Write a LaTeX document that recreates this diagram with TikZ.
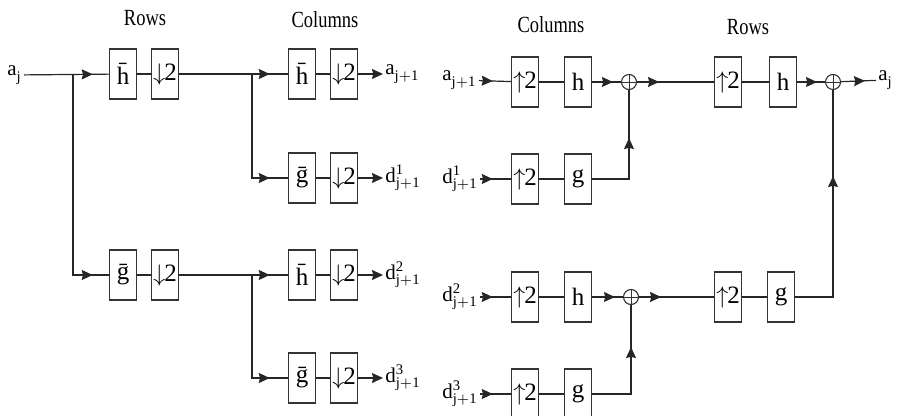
\documentclass[tikz,border=0pt]{standalone}
\usepackage{fontspec}
\setmainfont{Liberation Serif}
\usepackage{tikz}
\usetikzlibrary{positioning,arrows.meta,calc,decorations.markings}
\newcommand{\dsmp}{$\big\downarrow$\kern-0.5pt2}
\newcommand{\usmp}{$\big\uparrow$\kern-0.5pt2}
\newcommand{\sgl}[3]{$\mathrm{#1}^{\mathrm{#2}}_{\mathrm{#3}}$}
\newcommand{\narrow}[1]{\scalebox{0.84}[1.05]{#1}}
\tikzset{
  >={Stealth[length=5.5pt,width=5pt,inset=0.6pt]},
  every node/.style={font=\fontsize{10.5}{12}\selectfont},
  % --- nodes
  filt/.style  = {draw=black!80, line width=0.75pt, minimum width=13.5pt, minimum height=25pt,
                  inner sep=0pt, font=\fontsize{12.5}{14}\selectfont},
  adder/.style = {draw=black!80, circle, line width=0.55pt, minimum size=7.5pt, inner sep=0pt,
                  path picture={\draw[line width=0.45pt]
                    (path picture bounding box.north) -- (path picture bounding box.south)
                    (path picture bounding box.west) -- (path picture bounding box.east);}},
  sig/.style   = {anchor=west, inner sep=1pt},
  head/.style  = {font=\fontsize{11}{12}\selectfont},
  % --- edges
  wire/.style  = {draw=black!85, line width=0.6pt},
  flow/.style  = {wire, postaction={decorate},
                  decoration={markings, mark=at position #1 with {\arrow{>}}}},
  flow/.default= -8pt,
}

\begin{document}
\begin{tikzpicture}[x=0.5pt,y=0.5pt]
  \useasboundingbox (0,0) rectangle (898,-416);

  % headings
  \node (hrow1) [head] at (145,-18) {\narrow{Rows}};
  \node (hcol1) [head] at (325,-20) {\narrow{Columns}};
  \node (hcol2) [head] at (551,-25) {\narrow{Columns}};
  \node (hrow2) [head] at (748,-27) {\narrow{Rows}};

  % analysis: rows
  \node (aj)  [sig]  at (5,-75)    {\sgl{a}{}{j}};
  \node (hr)  [filt] at (123,-74)  {\=h};
  \node (dr1) [filt] at (165,-74)  {\dsmp};
  \node (gr)  [filt] at (123,-275) {\=g};
  \node (dr2) [filt] at (165,-275) {\dsmp};
  \coordinate (br1) at (73,-75);

  % analysis: columns
  \node (hc1) [filt] at (302,-74)  {\=h};
  \node (dc1) [filt] at (344,-74)  {\dsmp};
  \node (gc1) [filt] at (302,-178) {\=g};
  \node (dc2) [filt] at (344,-178) {\dsmp};
  \node (hc2) [filt] at (302,-275) {\=h};
  \node (dc3) [filt] at (344,-275) {\dsmp};
  \node (gc2) [filt] at (302,-378) {\=g};
  \node (dc4) [filt] at (344,-378) {\dsmp};
  \coordinate (br2) at (252,-74);
  \coordinate (br3) at (252,-275);

  \node (oa)  [sig] at (383,-74)  {\sgl{a}{}{j+1}};
  \node (od1) [sig] at (383,-178) {\sgl{d}{1}{j+1}};
  \node (od2) [sig] at (383,-275) {\sgl{d}{2}{j+1}};
  \node (od3) [sig] at (383,-378) {\sgl{d}{3}{j+1}};

  \draw[flow] (aj) -- (hr);
  \draw[flow] (br1) |- (gr);
  \draw[wire] (hr) -- (dr1);
  \draw[wire] (gr) -- (dr2);
  \draw[flow=-9pt] (dr1) -- (hc1);
  \draw[flow=-9pt] (br2) |- (gc1);
  \draw[flow=-9pt] (dr2) -- (hc2);
  \draw[flow=-9pt] (br3) |- (gc2);
  \foreach \f/\d/\o in {hc1/dc1/oa, gc1/dc2/od1, hc2/dc3/od2, gc2/dc4/od3} {
    \draw[wire] (\f) -- (\d);
    \draw[wire,->] (\d) -- (\o);
  }

  % synthesis: columns
  \node (ia)  [sig] at (440,-80)  {\sgl{a}{}{j+1}};
  \node (id1) [sig] at (440,-179) {\sgl{d}{1}{j+1}};
  \node (id2) [sig] at (440,-297) {\sgl{d}{2}{j+1}};
  \node (id3) [sig] at (440,-394) {\sgl{d}{3}{j+1}};

  \node (u1) [filt] at (525,-82)  {\usmp};
  \node (f1) [filt] at (578,-82)  {h};
  \node (u2) [filt] at (525,-179) {\usmp};
  \node (f2) [filt] at (578,-179) {g};
  \node (u3) [filt] at (525,-297) {\usmp};
  \node (f3) [filt] at (578,-297) {h};
  \node (u4) [filt] at (525,-394) {\usmp};
  \node (f4) [filt] at (578,-394) {g};
  \node (s1) [adder] at (629,-82)  {};
  \node (s2) [adder] at (631,-297) {};

  % synthesis: rows
  \node (u5) [filt] at (728,-82)  {\usmp};
  \node (f5) [filt] at (783,-82)  {h};
  \node (u6) [filt] at (728,-297) {\usmp};
  \node (f6) [filt] at (781,-297) {g};
  \node (s3) [adder] at (833,-82) {};
  \node (ao) [sig] at (876,-80) {\sgl{a}{}{j}};

  \foreach \i/\u/\f in {ia/u1/f1, id1/u2/f2, id2/u3/f3, id3/u4/f4} {
    \draw[flow=-9pt] (\i) -- (\u);
    \draw[wire] (\u) -- (\f);
  }
  \draw[flow=-4pt] (f1) -- (s1);
  \draw[flow=-4pt] (f3) -- (s2);
  \draw[flow=-24pt] (f2) -| (s1);
  \draw[flow=-21pt] (f4) -| (s2);
  \draw[flow=11pt] (s1) -- (u5);
  \draw[flow=11pt] (s2) -- (u6);
  \draw[wire] (u5) -- (f5);
  \draw[wire] (u6) -- (f6);
  \draw[flow=-4pt] (f5) -- (s3);
  \draw[flow=-43pt] (f6) -| (s3);
  \draw[flow=12pt] (s3) -- (ao);
\end{tikzpicture}
\end{document}
